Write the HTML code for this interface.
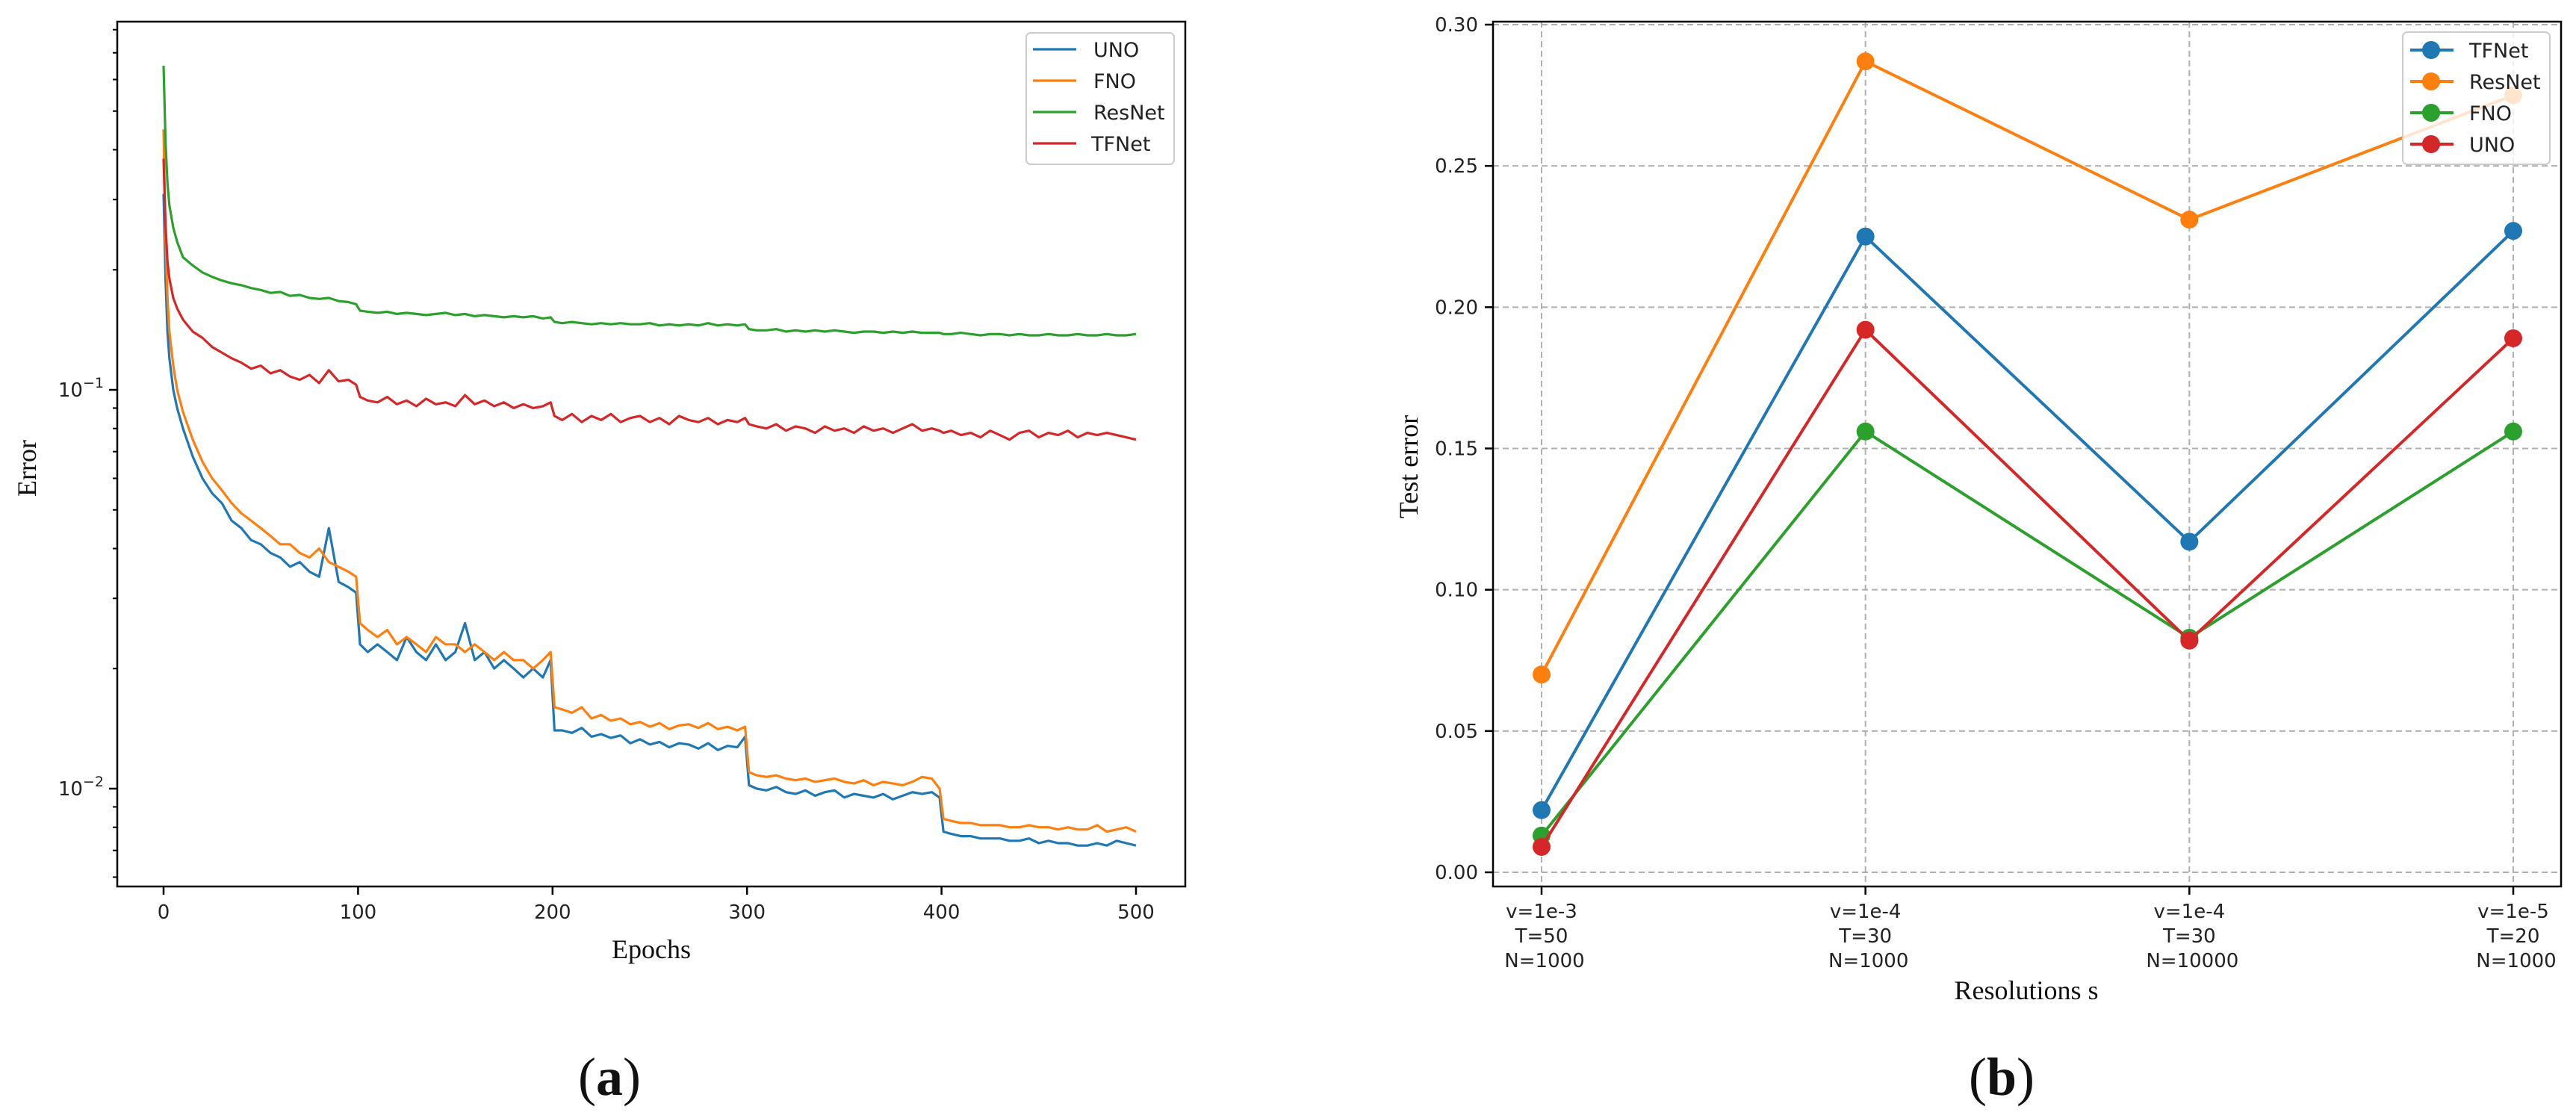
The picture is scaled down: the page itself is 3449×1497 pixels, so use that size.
<!DOCTYPE html>
<html><head><meta charset="utf-8"><style>
html,body{margin:0;padding:0;background:#fff;}
svg{display:block;}
.tk{font-family:"DejaVu Sans","Liberation Sans",sans-serif;font-size:26px;fill:#222;}
.lg{font-family:"DejaVu Sans","Liberation Sans",sans-serif;font-size:27px;fill:#222;}
.ax{font-family:"Liberation Serif",serif;font-size:36px;fill:#111;}
.cap{font-family:"Liberation Serif",serif;font-size:72px;fill:#111;}
</style></head><body>
<svg id="s" width="3449" height="1497" viewBox="0 0 3449 1497" xmlns="http://www.w3.org/2000/svg">
<g id="A"></g>
<g id="B"></g>
<text class="cap" x="816" y="1466" text-anchor="middle">(<tspan font-weight="bold">a</tspan>)</text>
<text class="cap" x="2680" y="1466" text-anchor="middle">(<tspan font-weight="bold">b</tspan>)</text>
</svg>
<script>
const epochs=[0,1,2,3,5,7,10,15,20,25,30,35,40,45,50,55,60,65,70,75,80,85,90,95,99,101,105,110,115,120,125,130,135,140,145,150,155,160,165,170,175,180,185,190,195,199,201,205,210,215,220,225,230,235,240,245,250,255,260,265,270,275,280,285,290,295,299,301,305,310,315,320,325,330,335,340,345,350,355,360,365,370,375,380,385,390,395,399,401,405,410,415,420,425,430,435,440,445,450,455,460,465,470,475,480,485,490,495,500];
const resnetA=[0.65,0.42,0.33,0.29,0.255,0.235,0.215,0.205,0.197,0.192,0.188,0.185,0.183,0.180,0.178,0.175,0.176,0.172,0.173,0.170,0.169,0.170,0.167,0.166,0.164,0.158,0.157,0.156,0.157,0.155,0.156,0.155,0.154,0.155,0.156,0.154,0.155,0.153,0.154,0.153,0.152,0.153,0.152,0.153,0.151,0.152,0.148,0.147,0.148,0.147,0.146,0.147,0.146,0.147,0.146,0.146,0.147,0.145,0.146,0.145,0.146,0.145,0.147,0.145,0.146,0.145,0.146,0.142,0.141,0.141,0.142,0.140,0.141,0.140,0.141,0.140,0.141,0.140,0.139,0.140,0.140,0.139,0.140,0.139,0.140,0.139,0.139,0.139,0.138,0.138,0.139,0.138,0.137,0.138,0.138,0.137,0.138,0.137,0.137,0.138,0.137,0.137,0.138,0.137,0.137,0.138,0.137,0.137,0.138];
const tfnetA=[0.38,0.26,0.21,0.19,0.17,0.16,0.15,0.14,0.135,0.128,0.124,0.120,0.117,0.113,0.115,0.110,0.112,0.108,0.106,0.109,0.104,0.112,0.105,0.106,0.103,0.096,0.094,0.093,0.096,0.092,0.094,0.091,0.095,0.092,0.093,0.091,0.097,0.092,0.094,0.091,0.093,0.090,0.092,0.090,0.091,0.093,0.086,0.084,0.087,0.083,0.086,0.084,0.087,0.083,0.085,0.086,0.083,0.085,0.082,0.086,0.084,0.083,0.085,0.082,0.084,0.083,0.085,0.082,0.081,0.080,0.082,0.079,0.081,0.080,0.078,0.081,0.079,0.080,0.078,0.081,0.079,0.080,0.078,0.080,0.082,0.079,0.080,0.079,0.078,0.079,0.077,0.078,0.076,0.079,0.077,0.075,0.078,0.079,0.076,0.078,0.077,0.079,0.076,0.078,0.077,0.078,0.077,0.076,0.075];
const fnoA=[0.45,0.24,0.17,0.14,0.115,0.10,0.088,0.075,0.066,0.060,0.056,0.052,0.049,0.047,0.045,0.043,0.041,0.041,0.039,0.038,0.040,0.037,0.036,0.035,0.034,0.026,0.025,0.024,0.025,0.023,0.024,0.023,0.022,0.024,0.023,0.023,0.022,0.023,0.022,0.021,0.022,0.021,0.021,0.020,0.021,0.022,0.016,0.0158,0.0155,0.0160,0.0150,0.0153,0.0148,0.0150,0.0145,0.0147,0.0143,0.0146,0.0141,0.0144,0.0145,0.0142,0.0146,0.0141,0.0143,0.0140,0.0143,0.0110,0.0108,0.0107,0.0108,0.0106,0.0105,0.0106,0.0104,0.0105,0.0106,0.0104,0.0103,0.0105,0.0102,0.0104,0.0103,0.0102,0.0104,0.0107,0.0106,0.0100,0.0084,0.0083,0.0082,0.0082,0.0081,0.0081,0.0081,0.0080,0.0080,0.0081,0.0080,0.0080,0.0079,0.0080,0.0079,0.0079,0.0081,0.0078,0.0079,0.0080,0.0078];
const unoA=[0.31,0.19,0.14,0.12,0.10,0.09,0.08,0.068,0.060,0.055,0.052,0.047,0.045,0.042,0.041,0.039,0.038,0.036,0.037,0.035,0.034,0.045,0.033,0.032,0.031,0.023,0.022,0.023,0.022,0.021,0.024,0.022,0.021,0.023,0.021,0.022,0.026,0.021,0.022,0.020,0.021,0.020,0.019,0.020,0.019,0.021,0.014,0.0140,0.0138,0.0142,0.0135,0.0137,0.0134,0.0136,0.0130,0.0133,0.0129,0.0131,0.0127,0.0130,0.0129,0.0126,0.0130,0.0125,0.0128,0.0127,0.0135,0.0102,0.0100,0.0099,0.0101,0.0098,0.0097,0.0099,0.0096,0.0098,0.0099,0.0095,0.0097,0.0096,0.0095,0.0097,0.0094,0.0096,0.0098,0.0097,0.0098,0.0095,0.0078,0.0077,0.0076,0.0076,0.0075,0.0075,0.0075,0.0074,0.0074,0.0075,0.0073,0.0074,0.0073,0.0073,0.0072,0.0072,0.0073,0.0072,0.0074,0.0073,0.0072];
const xTicksA=[0,100,200,300,400,500];
const legendA=["UNO","FNO","ResNet","TFNet"];

const catLabels=[["v=1e-3","T=50","N=1000"],["v=1e-4","T=30","N=1000"],["v=1e-4","T=30","N=10000"],["v=1e-5","T=20","N=1000"]];
const tfnetB=[0.022,0.225,0.117,0.227];
const resnetB=[0.070,0.287,0.231,0.275];
const fnoB=[0.013,0.156,0.083,0.156];
const unoB=[0.009,0.192,0.082,0.189];
const yTicksB=[0.00,0.05,0.10,0.15,0.20,0.25,0.30];
const legendB=["TFNet","ResNet","FNO","UNO"];

const C={blue:"#1f77b4",orange:"#ff7f0e",green:"#2ca02c",red:"#d62728"};
const NS="http://www.w3.org/2000/svg";
function mk(parent,tag,attrs,text){const e=document.createElementNS(NS,tag);for(const k in attrs)e.setAttribute(k,attrs[k]);if(text!==undefined)e.textContent=text;parent.appendChild(e);return e;}

// ---------- Chart A ----------
const A=document.getElementById('A');
const aL=157,aR=1587,aT=29,aB=1187;
const xA=v=>219+(1521-219)*v/500;
const yA=v=>1056-534*(Math.log10(v)+2);
// minor ticks
for(const dec of [0.001,0.01,0.1]){for(let m=2;m<=9;m++){const v=m*dec;const y=yA(v);if(y<aT||y>aB)continue;
 const t=mk(A,'line',{x1:aL,x2:aL-6,y1:y,y2:y,stroke:'#000','stroke-width':2});
 
 }}
for(const v of [0.01,0.1]){const y=yA(v);
 const t=mk(A,'line',{x1:aL,x2:aL-11,y1:y,y2:y,stroke:'#000','stroke-width':2.5});
 
 
 const l=mk(A,'text',{class:'tk',x:aL-18,y:y+9,'text-anchor':'end'});
 l.innerHTML='10<tspan dy="-12" font-size="19">−'+(v===0.1?'1':'2')+'</tspan>';
 
 }
for(const v of xTicksA){const x=xA(v);
 const t=mk(A,'line',{x1:x,x2:x,y1:aB,y2:aB+11,stroke:'#000','stroke-width':2.5});
 
 
 const l=mk(A,'text',{class:'tk',x:x,y:1230,'text-anchor':'middle'},String(v));
 
 }
const seriesA=[[unoA,C.blue,'series-uno'],[fnoA,C.orange,'series-fno'],[resnetA,C.green,'series-resnet'],[tfnetA,C.red,'series-tfnet']];
for(const [arr,col,nm] of seriesA){const n=Math.min(arr.length,epochs.length);let d='';
 for(let i=0;i<n;i++)d+=(i?'L':'M')+xA(epochs[i]).toFixed(1)+','+yA(arr[i]).toFixed(1);
 const p=mk(A,'path',{d:d,fill:'none',stroke:col,'stroke-width':3.2,'stroke-linejoin':'round'});
 
 }
const frA=mk(A,'rect',{x:aL,y:aT,width:aR-aL,height:aB-aT,fill:'none',stroke:'#000','stroke-width':2.5});


const lgA=mk(A,'g',{});


mk(lgA,'rect',{x:1374,y:44,width:198,height:176,rx:6,fill:'#fff','fill-opacity':0.8,stroke:'#ccc','stroke-width':2});
const colsA=[C.blue,C.orange,C.green,C.red];
legendA.forEach((nm,i)=>{const y=66+42*i;
 const g=mk(lgA,'g',{});
 
 
 mk(g,'line',{x1:1383,x2:1441,y1:y,y2:y,stroke:colsA[i],'stroke-width':3.2});
 mk(g,'text',{class:'lg',x:i===3?1461:1464,y:y+10},nm);});
const xtA=mk(A,'text',{class:'ax',x:872,y:1283,'text-anchor':'middle'},'Epochs');


const ytA=mk(A,'text',{class:'ax',x:0,y:0,'text-anchor':'middle',transform:'translate(48,627) rotate(-90)'},'Error');



// ---------- Chart B ----------
const B=document.getElementById('B');
const bL=1999,bR=3429,bT=29,bB=1187;
const xB=i=>2064+(3365-2064)*i/3;
const yB=v=>1168-(1168-33)*v/0.30;
for(const v of yTicksB){const y=yB(v);
 const g=mk(B,'line',{x1:bL,x2:bR,y1:y,y2:y,stroke:'#b0b0b0','stroke-width':2,'stroke-dasharray':'8,5'});
 
 
 const t=mk(B,'line',{x1:bL,x2:bL-11,y1:y,y2:y,stroke:'#000','stroke-width':2.5});
 
 
 const l=mk(B,'text',{class:'tk',x:bL-20,y:y+9,'text-anchor':'end'},v.toFixed(2));
 
 }
catLabels.forEach((lines,i)=>{const x=xB(i);
 const g=mk(B,'line',{x1:x,x2:x,y1:bT,y2:bB,stroke:'#b0b0b0','stroke-width':2,'stroke-dasharray':'8,5'});
 
 
 const t=mk(B,'line',{x1:x,x2:x,y1:bB,y2:bB+11,stroke:'#000','stroke-width':2.5});
 
 
 const l=mk(B,'text',{class:'tk','text-anchor':'middle'});
 
 
 lines.forEach((s,j)=>{mk(l,'tspan',{x:x+(j===2?4:0),y:1229+33*j},s);});});
const seriesB=[[tfnetB,C.blue,'series-tfnet'],[resnetB,C.orange,'series-resnet'],[fnoB,C.green,'series-fno'],[unoB,C.red,'series-uno']];
for(const [arr,col,nm] of seriesB){const g=mk(B,'g',{});
 
 
 let d='';arr.forEach((v,i)=>{d+=(i?'L':'M')+xB(i)+','+yB(v);});
 mk(g,'path',{d:d,fill:'none',stroke:col,'stroke-width':4,'stroke-linejoin':'round'});
 arr.forEach((v,i)=>{const c=mk(g,'circle',{cx:xB(i),cy:yB(v),r:12,fill:col});
  
  });}
const frB=mk(B,'rect',{x:bL,y:bT,width:bR-bL,height:bB-bT,fill:'none',stroke:'#000','stroke-width':2.5});


const lgB=mk(B,'g',{});


mk(lgB,'rect',{x:3217,y:43,width:197,height:177,rx:6,fill:'#fff','fill-opacity':0.8,stroke:'#ccc','stroke-width':2});
const colsB=[C.blue,C.orange,C.green,C.red];
legendB.forEach((nm,i)=>{const y=67+42*i;
 const g=mk(lgB,'g',{});
 
 
 mk(g,'line',{x1:3227,x2:3285,y1:y,y2:y,stroke:colsB[i],'stroke-width':4});
 mk(g,'circle',{cx:3255,cy:y,r:12,fill:colsB[i]});
 mk(g,'text',{class:'lg',x:3306,y:y+10},nm);});
const xtB=mk(B,'text',{class:'ax',x:2713,y:1338,'text-anchor':'middle'},'Resolutions s');


const ytB=mk(B,'text',{class:'ax',x:0,y:0,'text-anchor':'middle',transform:'translate(1898,625) rotate(-90)'},'Test error');


</script>
</body></html>
